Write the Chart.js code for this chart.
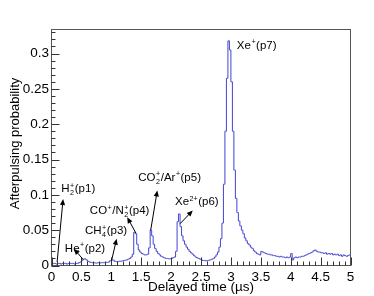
<!DOCTYPE html>
<html><head><meta charset="utf-8">
<script src="https://cdn.jsdelivr.net/npm/chart.js@4/dist/chart.umd.min.js"></script>
<style>html,body{margin:0;padding:0;background:#fff}#c{display:block}</style>
</head><body>
<div style="width:374px;height:296px"><canvas id="c" width="374" height="296"></canvas></div>
<script>
// Histogram: 200 bins of 0.025 us from 0 to 5 us
const binWidth = 0.025;
const xTickLabels = ["0","0.5","1","1.5","2","2.5","3","3.5","4","4.5","5"];
const yTickLabels = ["0","0.05","0.1","0.15","0.2","0.25","0.3"];
const counts_0_05 = [0.002,0.003,0.003,0.002,0.003,0.003,0.002,0.003,0.003,0.003,0.002,0.003,0.003,0.003,0.003,0.002,0.003,0.003,0.004,0.005];
const counts_05_10 = [0.007,0.009,0.0095,0.008,0.006,0.005,0.0045,0.004,0.004,0.0035,0.0035,0.004,0.0035,0.004,0.004,0.004,0.0045,0.0045,0.005,0.007];
const counts_10_15 = [0.008,0.0075,0.006,0.0055,0.0055,0.006,0.006,0.0065,0.007,0.0075,0.008,0.009,0.010,0.012,0.016,0.047,0.045,0.030,0.022,0.019];
const counts_15_20 = [0.017,0.016,0.015,0.015,0.016,0.025,0.050,0.042,0.030,0.024,0.020,0.017,0.015,0.013,0.012,0.011,0.010,0.010,0.0095,0.0095];
const counts_20_25 = [0.010,0.011,0.012,0.020,0.062,0.073,0.055,0.042,0.035,0.030,0.026,0.023,0.020,0.018,0.016,0.014,0.012,0.011,0.010,0.009];
const counts_25_30 = [0.008,0.007,0.007,0.0065,0.007,0.0075,0.008,0.009,0.010,0.012,0.015,0.019,0.026,0.038,0.060,0.115,0.190,0.265,0.318,0.305];
const counts_30_35 = [0.260,0.190,0.135,0.095,0.075,0.063,0.056,0.050,0.045,0.039,0.035,0.031,0.029,0.026,0.024,0.021,0.019,0.017,0.016,0.015];
const counts_35_40 = [0.020,0.019,0.018,0.017,0.016,0.016,0.015,0.015,0.014,0.014,0.013,0.013,0.012,0.013,0.012,0.012,0.011,0.012,0.011,0.012];
const counts_40_45 = [0.017,0.008,0.011,0.012,0.011,0.012,0.012,0.013,0.013,0.014,0.015,0.016,0.017,0.018,0.019,0.021,0.022,0.020,0.019,0.019];
const counts_45_50 = [0.018,0.018,0.017,0.018,0.016,0.017,0.016,0.017,0.015,0.016,0.015,0.016,0.014,0.015,0.013,0.015,0.014,0.013,0.014,0.015];

// Peak labels (ROOT-like markup) and their anchor points in data units
const peakLabels = ["H_{2}^{+}(p1)","He^{+}(p2)","CH_{4}^{+}(p3)","CO^{+}/N_{2}^{+}(p4)","CO_{2}^{+}/Ar^{+}(p5)","Xe^{2+}(p6)","Xe^{+}(p7)"];
const labelX = [0.164,0.223,0.559,0.641,1.451,2.065,3.099];
const labelY = [0.1034,0.0189,0.0439,0.0722,0.1194,0.085,0.307];
const arrowTail = [[0.094,0.005],[0.53,0.0085],[1.005,0.0071],[1.412,0.0458],[1.658,0.0496],[2.149,0.059]];
const arrowHead = [[0.194,0.094],[0.374,0.0237],[1.089,0.0378],[1.266,0.0684],[1.769,0.1062],[2.362,0.0779]];

const counts = [].concat(counts_0_05,counts_05_10,counts_10_15,counts_15_20,counts_20_25,counts_25_30,counts_30_35,counts_35_40,counts_40_45,counts_45_50);
const points = counts.map((v,i)=>({x:(i+0.5)*binWidth, y:v}));

const FONT = "'Liberation Sans', Arial, Helvetica, sans-serif";

function parseMarkup(s){
  const out=[]; let i=0; let buf='';
  while(i<s.length){
    const c=s[i];
    if((c==='_'||c==='^') && s[i+1]==='{'){
      if(buf){out.push({t:buf}); buf='';}
      let j=s.indexOf('}',i); const txt=s.slice(i+2,j);
      let last=out[out.length-1];
      if(!last || last.t!==undefined){ last={sub:'',sup:''}; out.push(last); }
      if(c==='_') last.sub=txt; else last.sup=txt;
      i=j+1;
    } else { buf+=c; i++; }
  }
  if(buf) out.push({t:buf});
  return out;
}
function drawRich(ctx, s, x, y, size){
  const parts=parseMarkup(s);
  const ss=size*0.62;
  ctx.textBaseline='alphabetic'; ctx.textAlign='left'; ctx.fillStyle='#000';
  let cx=x;
  for(const p of parts){
    if(p.t!==undefined){ ctx.font=size+'px '+FONT; ctx.fillText(p.t,cx,y); cx+=ctx.measureText(p.t).width; }
    else {
      ctx.font=ss+'px '+FONT;
      let w=0;
      if(p.sup){ ctx.fillText(p.sup,cx+0.5,y-size*0.42); w=Math.max(w,ctx.measureText(p.sup).width); }
      if(p.sub){ ctx.fillText(p.sub,cx+0.5,y+size*0.24); w=Math.max(w,ctx.measureText(p.sub).width); }
      cx+=w+1;
    }
  }
}

const framePlugin = {
  id:'frame',
  afterDraw(chart){
    const {ctx, chartArea:a, scales:{x,y}} = chart;
    ctx.save();
    // frame
    ctx.strokeStyle='#555'; ctx.lineWidth=1;
    ctx.strokeRect(a.left,a.top,a.right-a.left,a.bottom-a.top);
    // inward ticks (ROOT style)
    ctx.strokeStyle='#333';
    ctx.beginPath();
    for(let i=0;i<=50;i++){
      const px=Math.round(x.getPixelForValue(i/10))+0.5;
      const len=(i%5===0)?8:4;
      ctx.moveTo(px,a.bottom); ctx.lineTo(px,a.bottom-len);
    }
    for(let i=0;i<=33;i++){
      const py=Math.round(y.getPixelForValue(i/100))+0.5;
      const len=(i%5===0)?8:4;
      ctx.moveTo(a.left,py); ctx.lineTo(a.left+len,py);
    }
    ctx.stroke();
    // tick labels placed through the scales
    ctx.fillStyle='#000'; ctx.font='13.5px '+FONT;
    ctx.textAlign='center'; ctx.textBaseline='alphabetic';
    xTickLabels.forEach((t,i)=>{ ctx.fillText(t, x.getPixelForValue(i*0.5), 280.5); });
    ctx.textAlign='right'; ctx.textBaseline='middle';
    yTickLabels.forEach((t,i)=>{ ctx.fillText(t, a.left-2.5, y.getPixelForValue(i*0.05)); });
    // axis titles
    ctx.font='13.5px '+FONT; ctx.textAlign='center'; ctx.textBaseline='alphabetic';
    ctx.fillText('Delayed time (µs)', (a.left+a.right)/2, 291);
    ctx.save(); ctx.translate(19,(a.top+a.bottom)/2-4); ctx.rotate(-Math.PI/2);
    ctx.font='13px '+FONT; ctx.fillText('Afterpulsing probability',0,0); ctx.restore();
    // peak labels
    for(let k=0;k<peakLabels.length;k++){
      drawRich(ctx, peakLabels[k], x.getPixelForValue(labelX[k]), y.getPixelForValue(labelY[k]), 11.5);
    }
    // arrows
    ctx.strokeStyle='#000'; ctx.fillStyle='#000'; ctx.lineWidth=1;
    for(let k=0;k<arrowTail.length;k++){
      const x0=x.getPixelForValue(arrowTail[k][0]), y0=y.getPixelForValue(arrowTail[k][1]);
      const x1=x.getPixelForValue(arrowHead[k][0]), y1=y.getPixelForValue(arrowHead[k][1]);
      const ang=Math.atan2(y1-y0,x1-x0);
      const L=6, W=2.6;
      ctx.beginPath(); ctx.moveTo(x0,y0); ctx.lineTo(x1-Math.cos(ang)*L*0.8,y1-Math.sin(ang)*L*0.8); ctx.stroke();
      ctx.beginPath();
      ctx.moveTo(x1,y1);
      ctx.lineTo(x1-Math.cos(ang)*L-Math.sin(ang)*W, y1-Math.sin(ang)*L+Math.cos(ang)*W);
      ctx.lineTo(x1-Math.cos(ang)*L+Math.sin(ang)*W, y1-Math.sin(ang)*L-Math.cos(ang)*W);
      ctx.closePath(); ctx.fill();
    }
    ctx.restore();
  }
};

new Chart(document.getElementById('c'), {
  type:'line',
  data:{datasets:[{data:points, stepped:'middle', borderColor:'#4343d2', borderWidth:1, pointRadius:0, fill:false}]},
  options:{
    responsive:false, animation:false, devicePixelRatio:1,
    layout:{padding:{top:29.5, right:23.5, left:51.5, bottom:30.5}},
    plugins:{legend:{display:false}, tooltip:{enabled:false}},
    scales:{
      x:{type:'linear', min:0, max:5, display:false},
      y:{type:'linear', min:0, max:0.334, display:false}
    }
  },
  plugins:[framePlugin]
});
</script>
</body></html>
